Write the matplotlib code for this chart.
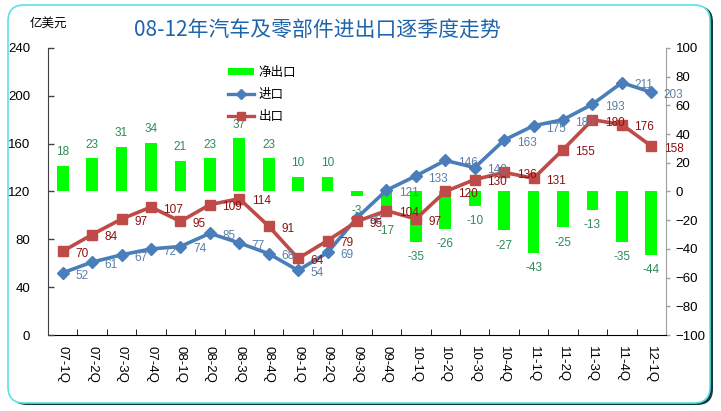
import numpy as np
import matplotlib
matplotlib.use('Agg')
import matplotlib.pyplot as plt
from matplotlib.patches import FancyBboxPatch, Patch
from matplotlib.lines import Line2D
from matplotlib.transforms import IdentityTransform

plt.rcParams['font.family'] = ['Liberation Sans', 'Noto Sans CJK SC']
plt.rcParams['axes.unicode_minus'] = True

quarters = ['07-1Q', '07-2Q', '07-3Q', '07-4Q', '08-1Q', '08-2Q', '08-3Q', '08-4Q',
            '09-1Q', '09-2Q', '09-3Q', '09-4Q', '10-1Q', '10-2Q', '10-3Q', '10-4Q',
            '11-1Q', '11-2Q', '11-3Q', '11-4Q', '12-1Q']
imports = [52, 61, 67, 72, 74, 85, 77, 68, 54, 69, 98, 121, 133, 146, 140, 163, 175, 180, 193, 211, 203]
exports = [70, 84, 97, 107, 95, 109, 114, 91, 64, 79, 95, 104, 97, 120, 130, 136, 131, 155, 180, 176, 158]
net_exports = [18, 23, 31, 34, 21, 23, 37, 23, 10, 10, -3, -17, -35, -26, -10, -27, -43, -25, -13, -35, -44]

left_ticks = [0, 40, 80, 120, 160, 200, 240]
right_ticks = list(range(-100, 101, 20))

blue = '#4A7EBB'
red = '#BE4B48'
green = '#00FF00'

W, H = 721, 411
fig = plt.figure(figsize=(W / 100, H / 100), dpi=100)
fig.patch.set_facecolor('white')

# rounded frame with dark shadow
shadow = FancyBboxPatch((11, 6), 702, 399, boxstyle='round,pad=0,rounding_size=16',
                        transform=IdentityTransform(), facecolor='#123C3C', edgecolor='none', zorder=-3)
frame = FancyBboxPatch((8, 8), 702, 398, boxstyle='round,pad=0,rounding_size=16',
                       transform=IdentityTransform(), facecolor='white', edgecolor='#5CE1E6',
                       linewidth=1.2, zorder=-2)
fig.patches.extend([shadow, frame])

ax2 = fig.add_axes([48 / W, (H - 335) / H, (666 - 48) / W, (335 - 48) / H])
ax = ax2.twinx()
ax.yaxis.tick_left()
ax2.yaxis.tick_right()
ax.set_zorder(ax2.get_zorder() + 1)
ax.patch.set_visible(False)
ax2.patch.set_visible(False)

x = np.arange(len(quarters))

# net export bars (right axis)
ax2.bar(x, net_exports, width=0.4, color=green, zorder=2)
for xi, v in zip(x, net_exports):
    off = 10 if v >= 0 else -11
    ax2.annotate(str(v), (xi, v), xytext=(0, off), textcoords='offset points',
                 ha='center', va='center', fontsize=8.5, color='#2E8B57', zorder=3)
ax2.set_ylim(-100, 100)
ax2.set_yticks(right_ticks)

# import / export lines (left axis)
ax.plot(x, imports, color=blue, lw=2.6, marker='D', ms=6, zorder=3)
ax.plot(x, exports, color=red, lw=2.6, marker='s', ms=7.5, zorder=4)
for xi, v in zip(x, imports):
    ax.annotate(str(v), (xi, v), xytext=(9, -2), textcoords='offset points',
                ha='left', va='center', fontsize=8.5, color='#5B7FA8', zorder=5)
for xi, v in zip(x, exports):
    ax.annotate(str(v), (xi, v), xytext=(9, -2), textcoords='offset points',
                ha='left', va='center', fontsize=8.5, color='#8B1010', zorder=5)
ax.set_ylim(0, 240)
ax.set_yticks(left_ticks)
ax.set_xlim(-0.5, len(quarters) - 0.5)

# axes styling
for a in (ax, ax2):
    a.spines['top'].set_visible(False)
ax.spines['left'].set_color('#404040')
ax.spines['right'].set_visible(False)
ax.spines['bottom'].set_visible(False)
ax2.spines['left'].set_visible(False)
ax2.spines['right'].set_color('#A0A0A0')
ax2.spines['bottom'].set_color('black')
ax.tick_params(axis='y', direction='in', length=4, width=1, color='#404040', pad=13, labelsize=9.5)
ax2.tick_params(axis='y', direction='out', length=3, width=1, color='#A0A0A0', pad=4, labelsize=9.5)

ax2.set_xticks(x)
ax2.set_xticklabels(quarters, rotation=270, fontsize=9.5, va='top')
ax2.set_xticks(np.arange(-0.5, len(quarters), 1), minor=True)
ax2.tick_params(axis='x', which='major', length=0, pad=8)
ax2.tick_params(axis='x', which='minor', direction='in', length=4, color='black')
ax.tick_params(axis='x', which='both', bottom=False, labelbottom=False)

# titles
fig.text(317 / W, 1 - 30 / H, '08-12年汽车及零部件进出口逐季度走势', ha='center', va='center',
         fontsize=15, color='#1E64AA', family=['Noto Sans CJK SC'])
fig.text(30 / W, 1 - 23 / H, '亿美元', ha='left', va='center', fontsize=9, family=['Noto Sans CJK SC'])

# legend
handles = [Patch(facecolor=green, edgecolor='none'),
           Line2D([], [], color=blue, lw=2.4, marker='D', ms=5),
           Line2D([], [], color=red, lw=2.4, marker='s', ms=6)]
leg = ax.legend(handles, ['净出口', '进口', '出口'], loc='upper left',
                bbox_to_anchor=(222 / W, 1 - 60 / H), bbox_transform=fig.transFigure,
                frameon=False, handlelength=2.1, handleheight=0.5,
                handletextpad=0.3, labelspacing=0.7, borderpad=0,
                prop={'family': ['Noto Sans CJK SC'], 'size': 9})

fig.savefig('out.png', dpi=100)
